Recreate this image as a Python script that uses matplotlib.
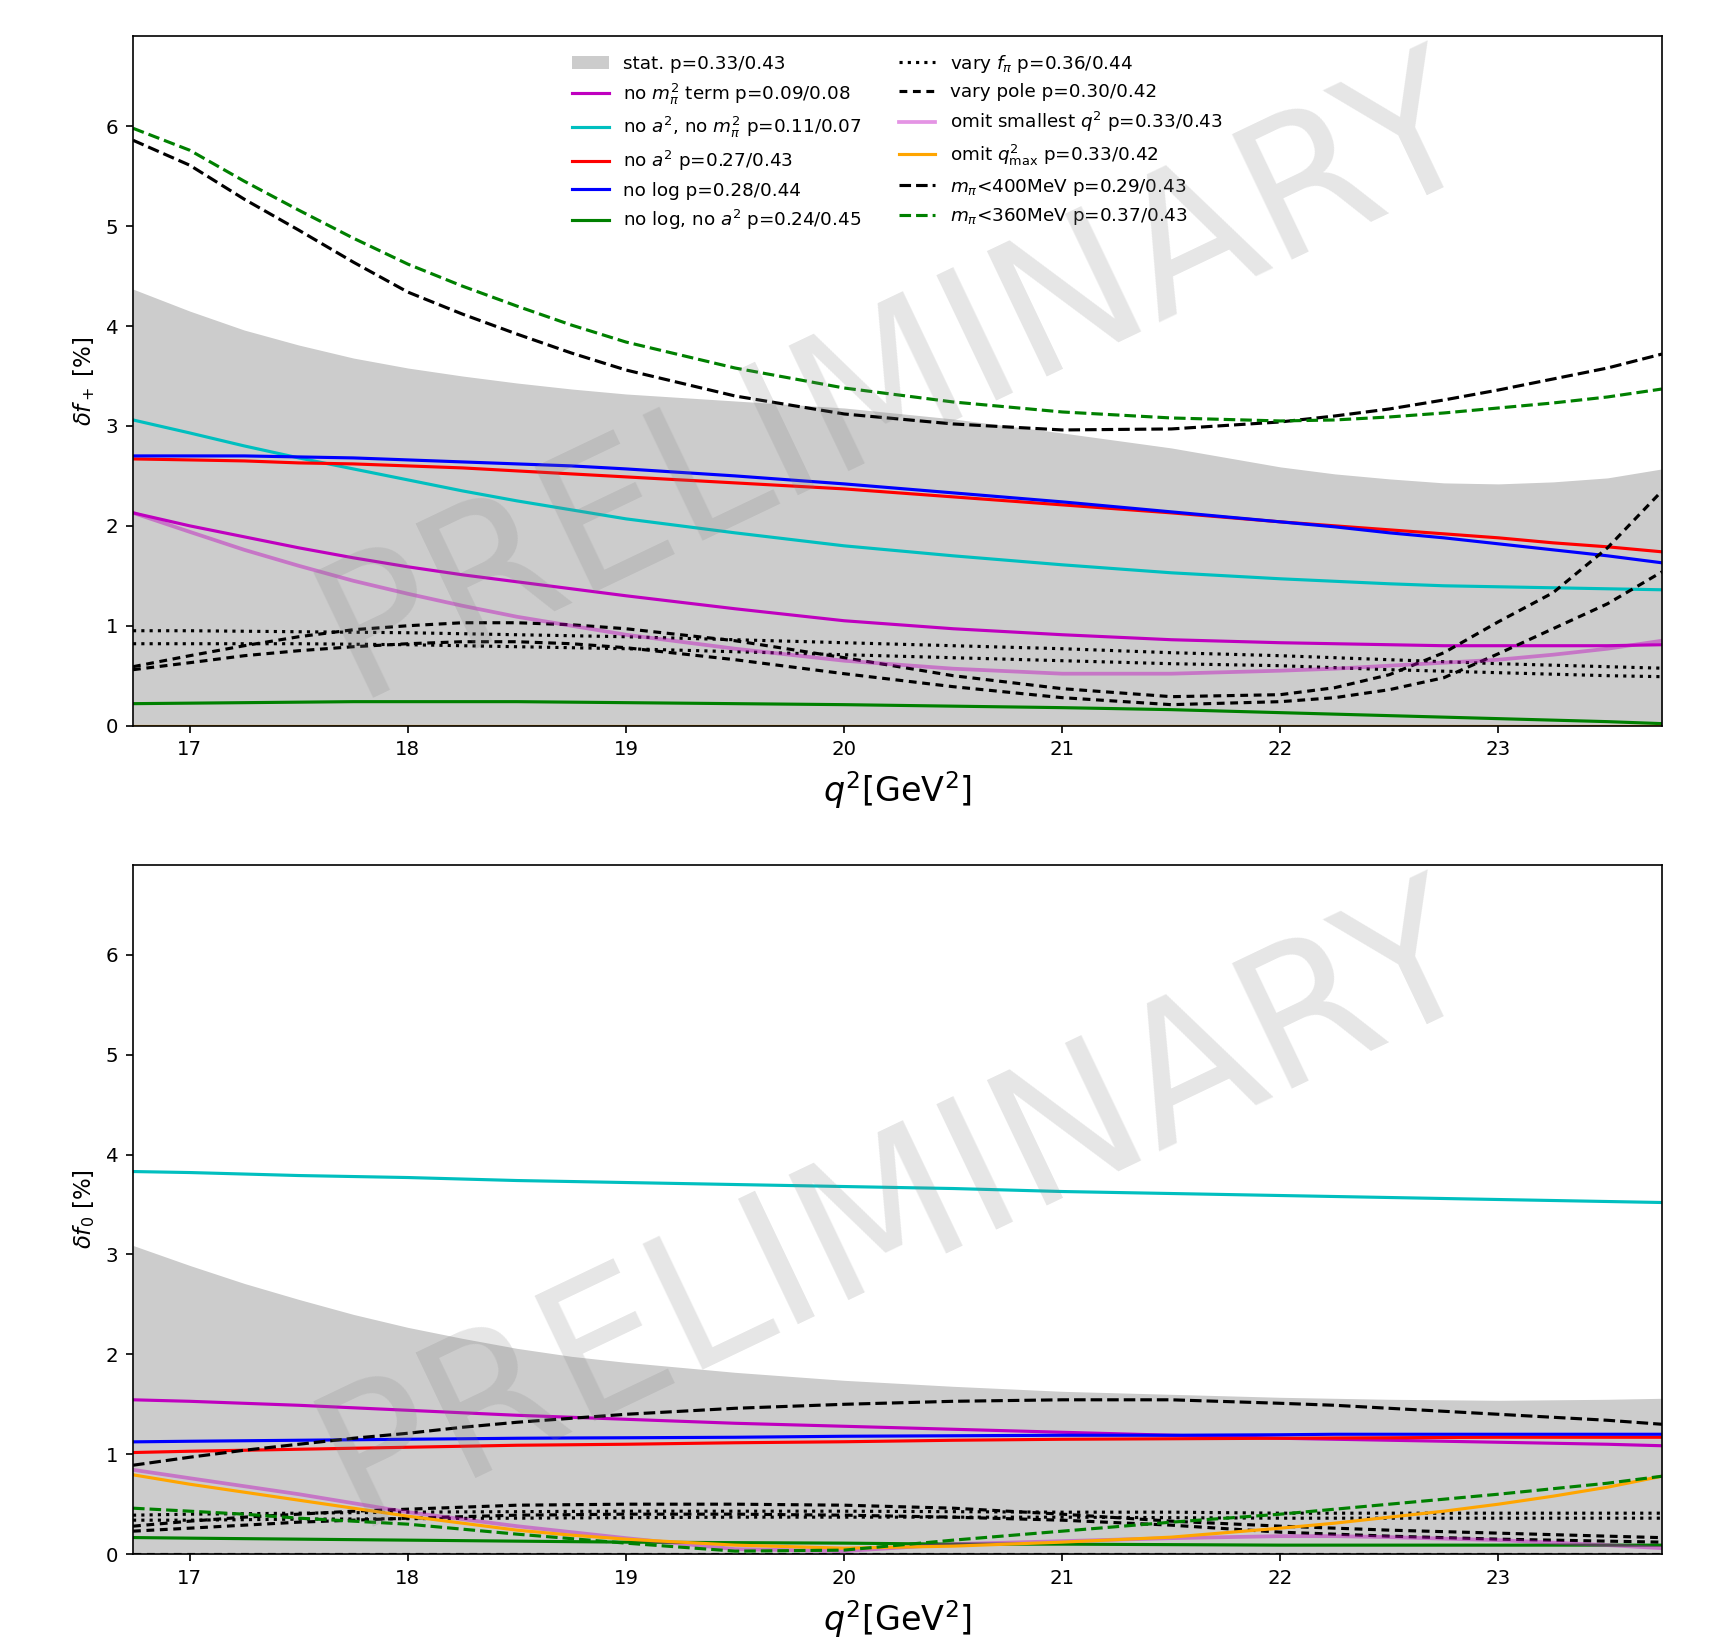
import numpy as np
import matplotlib
matplotlib.use('Agg')
import matplotlib.pyplot as plt

# q^2 grid the curves were read at (denser where they bend)
q2 = [16.74, 17.0, 17.25, 17.5, 17.75, 18.0, 18.25, 18.5, 18.75, 19.0, 19.5, 20.0,
      20.5, 21.0, 21.5, 22.0, 22.25, 22.5, 22.75, 23.0, 23.25, 23.5, 23.75]

# ---- delta f_+ (top panel), values in percent
fp_stat = [4.37, 4.15, 3.96, 3.81, 3.68, 3.58, 3.50, 3.43, 3.37, 3.32, 3.25, 3.18,
           3.07, 2.93, 2.78, 2.59, 2.52, 2.47, 2.43, 2.42, 2.44, 2.48, 2.57]
fp_no_mpi2 = [2.13, 2.00, 1.89, 1.78, 1.68, 1.59, 1.51, 1.44, 1.37, 1.30, 1.17, 1.05,
              0.97, 0.91, 0.86, 0.83, 0.82, 0.81, 0.80, 0.80, 0.80, 0.80, 0.81]
fp_no_a2_mpi2 = [3.06, 2.93, 2.80, 2.68, 2.57, 2.46, 2.35, 2.25, 2.16, 2.07, 1.93, 1.80,
                 1.70, 1.61, 1.53, 1.47, 1.445, 1.42, 1.40, 1.39, 1.38, 1.37, 1.36]
fp_no_a2 = [2.67, 2.66, 2.65, 2.63, 2.62, 2.60, 2.58, 2.55, 2.52, 2.49, 2.43, 2.37,
            2.29, 2.21, 2.13, 2.04, 2.00, 1.96, 1.92, 1.88, 1.83, 1.79, 1.74]
fp_no_log = [2.70, 2.70, 2.70, 2.69, 2.68, 2.66, 2.64, 2.62, 2.60, 2.57, 2.50, 2.42,
             2.33, 2.24, 2.14, 2.04, 1.99, 1.93, 1.88, 1.82, 1.76, 1.70, 1.63]
fp_no_log_a2 = [0.22, 0.225, 0.23, 0.235, 0.24, 0.24, 0.24, 0.24, 0.235, 0.23, 0.22, 0.21,
                0.195, 0.18, 0.16, 0.13, 0.115, 0.10, 0.085, 0.07, 0.055, 0.04, 0.02]
fp_fpi_1 = [0.95, 0.95, 0.945, 0.94, 0.935, 0.93, 0.92, 0.91, 0.90, 0.89, 0.86, 0.83,
            0.80, 0.77, 0.73, 0.70, 0.68, 0.66, 0.64, 0.62, 0.605, 0.59, 0.575]
fp_fpi_2 = [0.82, 0.82, 0.82, 0.82, 0.815, 0.81, 0.80, 0.79, 0.78, 0.77, 0.74, 0.71,
            0.68, 0.65, 0.62, 0.60, 0.58, 0.56, 0.545, 0.53, 0.515, 0.50, 0.49]
fp_pole_1 = [0.59, 0.70, 0.80, 0.89, 0.96, 1.00, 1.03, 1.03, 1.01, 0.97, 0.85, 0.68,
             0.50, 0.37, 0.29, 0.31, 0.38, 0.51, 0.73, 1.04, 1.33, 1.78, 2.35]
fp_pole_2 = [0.56, 0.63, 0.70, 0.75, 0.79, 0.82, 0.84, 0.84, 0.82, 0.78, 0.66, 0.52,
             0.39, 0.28, 0.21, 0.24, 0.28, 0.36, 0.48, 0.72, 0.97, 1.22, 1.54]
fp_omit_small = [2.13, 1.94, 1.76, 1.60, 1.45, 1.32, 1.20, 1.09, 1.00, 0.91, 0.77, 0.65,
                 0.57, 0.52, 0.52, 0.55, 0.57, 0.60, 0.63, 0.66, 0.71, 0.77, 0.85]
fp_omit_max = [0.0] * 23
fp_mpi400 = [5.86, 5.61, 5.27, 4.96, 4.64, 4.34, 4.12, 3.92, 3.73, 3.56, 3.30, 3.12,
             3.02, 2.96, 2.97, 3.04, 3.10, 3.17, 3.26, 3.36, 3.47, 3.58, 3.72]
fp_mpi360 = [5.98, 5.76, 5.45, 5.16, 4.88, 4.62, 4.40, 4.20, 4.01, 3.84, 3.58, 3.38,
             3.24, 3.14, 3.08, 3.05, 3.06, 3.09, 3.13, 3.18, 3.23, 3.29, 3.37]

# ---- delta f_0 (bottom panel)
f0_stat = [3.09, 2.89, 2.71, 2.55, 2.40, 2.27, 2.16, 2.06, 1.98, 1.92, 1.82, 1.74,
           1.68, 1.63, 1.60, 1.57, 1.56, 1.55, 1.545, 1.54, 1.545, 1.55, 1.56]
f0_no_mpi2 = [1.545, 1.53, 1.51, 1.49, 1.465, 1.44, 1.415, 1.39, 1.37, 1.35, 1.31, 1.28,
              1.25, 1.22, 1.19, 1.16, 1.15, 1.14, 1.13, 1.12, 1.11, 1.10, 1.085]
f0_no_a2_mpi2 = [3.83, 3.82, 3.805, 3.79, 3.78, 3.77, 3.755, 3.74, 3.73, 3.72, 3.70, 3.68,
                 3.66, 3.63, 3.61, 3.59, 3.58, 3.57, 3.56, 3.55, 3.54, 3.53, 3.52]
f0_no_a2 = [1.017, 1.03, 1.04, 1.05, 1.06, 1.07, 1.08, 1.09, 1.095, 1.10, 1.115, 1.125,
            1.14, 1.15, 1.155, 1.16, 1.163, 1.165, 1.168, 1.17, 1.17, 1.17, 1.17]
f0_no_log = [1.124, 1.13, 1.135, 1.14, 1.145, 1.15, 1.155, 1.16, 1.163, 1.165, 1.17, 1.18,
             1.185, 1.19, 1.19, 1.195, 1.20, 1.20, 1.20, 1.20, 1.20, 1.20, 1.20]
f0_no_log_a2 = [0.166, 0.16, 0.155, 0.15, 0.145, 0.14, 0.135, 0.13, 0.125, 0.12, 0.115, 0.11,
                0.10, 0.10, 0.095, 0.09, 0.09, 0.09, 0.09, 0.09, 0.09, 0.09, 0.09]
f0_fpi_1 = [0.39, 0.40, 0.405, 0.41, 0.415, 0.42, 0.423, 0.425, 0.428, 0.43, 0.43, 0.43,
            0.425, 0.42, 0.42, 0.41, 0.41, 0.41, 0.41, 0.41, 0.41, 0.41, 0.41]
f0_fpi_2 = [0.34, 0.34, 0.345, 0.35, 0.352, 0.355, 0.358, 0.36, 0.363, 0.365, 0.37, 0.37,
            0.37, 0.37, 0.365, 0.36, 0.36, 0.36, 0.36, 0.36, 0.36, 0.36, 0.36]
f0_pole_1 = [0.28, 0.33, 0.37, 0.40, 0.43, 0.45, 0.47, 0.49, 0.495, 0.50, 0.50, 0.49,
             0.46, 0.40, 0.33, 0.28, 0.26, 0.24, 0.225, 0.21, 0.195, 0.18, 0.165]
f0_pole_2 = [0.23, 0.26, 0.29, 0.32, 0.34, 0.36, 0.375, 0.39, 0.395, 0.40, 0.40, 0.39,
             0.37, 0.34, 0.29, 0.22, 0.20, 0.18, 0.165, 0.15, 0.14, 0.13, 0.12]
f0_pole_3 = [0.0] * 23
f0_omit_small = [0.844, 0.76, 0.68, 0.60, 0.51, 0.42, 0.35, 0.28, 0.22, 0.16, 0.05, 0.03,
                 0.10, 0.13, 0.16, 0.18, 0.18, 0.17, 0.155, 0.14, 0.115, 0.09, 0.06]
f0_omit_max = [0.794, 0.70, 0.62, 0.54, 0.46, 0.38, 0.31, 0.24, 0.19, 0.15, 0.09, 0.06,
               0.08, 0.12, 0.17, 0.26, 0.31, 0.37, 0.43, 0.50, 0.58, 0.67, 0.78]
f0_mpi400 = [0.89, 0.97, 1.04, 1.10, 1.16, 1.21, 1.27, 1.32, 1.36, 1.40, 1.46, 1.50,
             1.53, 1.545, 1.545, 1.51, 1.49, 1.46, 1.43, 1.40, 1.37, 1.34, 1.30]
f0_mpi360 = [0.46, 0.43, 0.40, 0.36, 0.33, 0.30, 0.25, 0.20, 0.155, 0.11, 0.03, 0.04,
             0.14, 0.23, 0.32, 0.40, 0.45, 0.50, 0.55, 0.60, 0.655, 0.71, 0.78]

pole_ls = (0, (2.5, 1.8))


def draw_panel(ax, stat, no_mpi2, no_a2_mpi2, no_a2, no_log, no_log_a2,
               fpi, pole, omit_small, omit_max, mpi400, mpi360):
    ax.fill_between(q2, 0, stat, color='0.8', lw=0, label='stat. p=0.33/0.43')
    ax.plot(q2, no_mpi2, color='m', lw=1.5, label=r'no $m_\pi^2$ term p=0.09/0.08')
    ax.plot(q2, no_a2_mpi2, color='c', lw=1.5, label=r'no $a^2$, no $m_\pi^2$ p=0.11/0.07')
    ax.plot(q2, no_a2, color='r', lw=1.5, label=r'no $a^2$ p=0.27/0.43')
    ax.plot(q2, no_log, color='b', lw=1.5, label='no log p=0.28/0.44')
    ax.plot(q2, no_log_a2, color='g', lw=1.5, label=r'no log, no $a^2$ p=0.24/0.45')
    for i, y in enumerate(fpi):
        ax.plot(q2, y, color='k', ls=':', lw=1.5,
                label=r'vary $f_\pi$ p=0.36/0.44' if i == 0 else None)
    for i, y in enumerate(pole):
        ax.plot(q2, y, color='k', ls=pole_ls, lw=1.5,
                label='vary pole p=0.30/0.42' if i == 0 else None)
    ax.plot(q2, omit_small, color='m', alpha=0.42, lw=1.8,
            label=r'omit smallest $q^2$ p=0.33/0.43')
    ax.plot(q2, omit_max, color='orange', lw=1.5, label=r'omit $q^2_{\rm max}$ p=0.33/0.42')
    ax.plot(q2, mpi400, color='k', ls='--', lw=1.5, label=r'$m_\pi$<400MeV p=0.29/0.43')
    ax.plot(q2, mpi360, color='g', ls='--', lw=1.5, label=r'$m_\pi$<360MeV p=0.37/0.43')

    ax.set_xlim(16.74, 23.75)
    ax.set_ylim(0, 6.9)
    ax.set_xticks([17, 18, 19, 20, 21, 22, 23])
    ax.set_yticks([0, 1, 2, 3, 4, 5, 6])
    ax.tick_params(labelsize=9.5)
    ax.set_xlabel(r'$q^2$[GeV$^2$]', fontsize=16, labelpad=5)
    # watermark
    ax.text(0.5, 0.5, 'PRELIMINARY', transform=ax.transAxes, rotation=25.5,
            fontsize=91, color='gray', alpha=0.2, ha='center', va='center',
            zorder=10, clip_on=True)


fig = plt.figure(figsize=(1732 / 150, 1638 / 150), dpi=150)
ax1 = fig.add_axes([0.0768, 0.557, 0.8828, 0.4208])
ax2 = fig.add_axes([0.0768, 0.0512, 0.8828, 0.4208])

draw_panel(ax1, fp_stat, fp_no_mpi2, fp_no_a2_mpi2, fp_no_a2, fp_no_log, fp_no_log_a2,
           [fp_fpi_1, fp_fpi_2], [fp_pole_1, fp_pole_2], fp_omit_small, fp_omit_max,
           fp_mpi400, fp_mpi360)
draw_panel(ax2, f0_stat, f0_no_mpi2, f0_no_a2_mpi2, f0_no_a2, f0_no_log, f0_no_log_a2,
           [f0_fpi_1, f0_fpi_2], [f0_pole_1, f0_pole_2, f0_pole_3], f0_omit_small, f0_omit_max,
           f0_mpi400, f0_mpi360)

ax1.set_ylabel(r'$\delta f_+$ [%]', fontsize=11)
ax2.set_ylabel(r'$\delta f_0$ [%]', fontsize=11)
ax1.legend(loc='upper center', ncol=2, frameon=False, fontsize=8.8, labelspacing=0.47)

fig.savefig('out.png', dpi=150)
